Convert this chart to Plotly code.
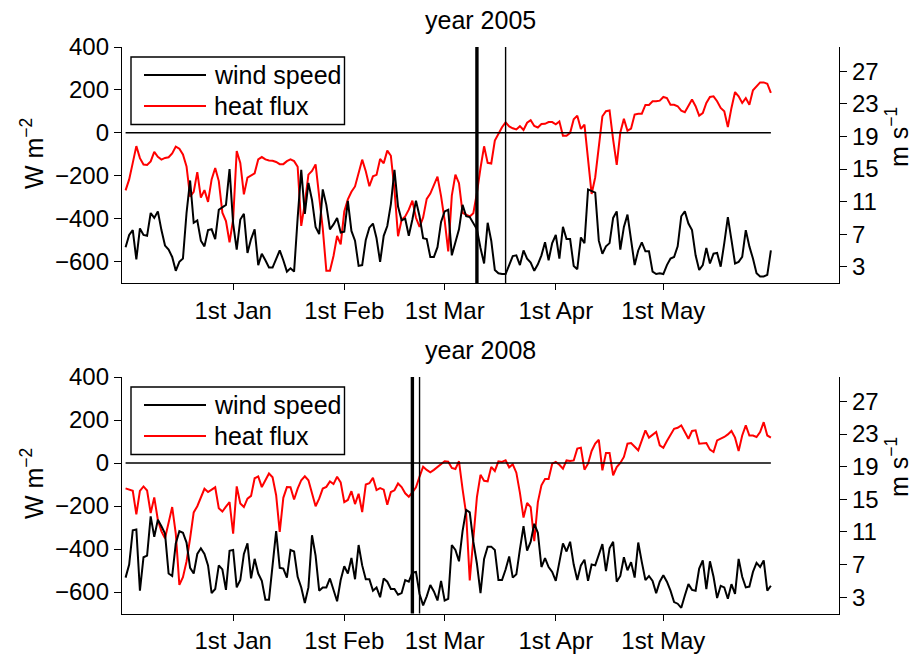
import plotly.graph_objects as go

# Day index counted from 1st December (0 = 1st Dec, 31 = 1st Jan, ...)
DAYS = list(range(1, 182))
MONTH_TICKS = [31, 62, 90, 121, 151]
MONTH_LABELS = ["1st Jan", "1st Feb", "1st Mar", "1st Apr", "1st May"]
HEAT_TICKS = [-600, -400, -200, 0, 200, 400]
WIND_TICKS = [3, 7, 11, 15, 19, 23, 27]

# ---- winter 2004/05 -------------------------------------------------------
heat_2005 = [
    -268, -217, -140, -62, -118, -148, -150, -133, -89, -112,
    -125, -117, -114, -96, -64, -74, -101, -157, -297, -275,
    -183, -302, -267, -322, -217, -164, -225, -372, -411, -510,
    -403, -85, -140, -287, -209, -197, -189, -124, -113, -124,
    -129, -130, -136, -146, -146, -132, -124, -132, -158, -434,
    -329, -195, -178, -147, -302, -446, -643, -643, -574, -481,
    -520, -367, -310, -275, -250, -187, -125, -179, -249, -203,
    -196, -122, -142, -83, -107, -265, -482, -405, -390, -358,
    -316, -396, -438, -394, -308, -283, -243, -204, -295, -408,
    -553, -293, -195, -235, -373, -383, -390, -375, -280, -164,
    -63, -140, -143, -36, -3, 26, 49, 30, 21, 16,
    31, 13, 47, 59, 32, 25, 41, 42, 50, 50,
    40, 53, -14, -14, 0, 63, 80, 18, 38, -110,
    -285, -207, -50, 77, 101, 104, -32, -149, 2, 65,
    10, 20, 85, 89, 89, 130, 130, 147, 147, 150,
    167, 162, 131, 131, 124, 103, 96, 124, 155, 124,
    80, 92, 139, 167, 170, 147, 116, 100, 27, 116,
    190, 170, 139, 162, 131, 198, 217, 235, 235, 229,
    186,
]
wind_2005 = [
    5.4, 6.9, 7.5, 3.9, 7.7, 6.9, 6.8, 9.6, 9.0, 9.8,
    7.5, 5.6, 5.1, 4.2, 2.5, 3.6, 4.0, 9.6, 13.6, 8.4,
    8.7, 6.2, 5.5, 7.5, 7.6, 6.4, 10.0, 10.3, 10.6, 15.0,
    8.3, 5.1, 8.8, 9.5, 4.7, 6.4, 7.6, 3.2, 4.6, 3.8,
    2.9, 2.9, 3.9, 5.0, 3.8, 2.4, 2.8, 2.4, 9.0, 14.9,
    9.5, 13.3, 11.2, 7.9, 7.0, 12.5, 10.6, 7.6, 8.2, 9.0,
    7.2, 7.3, 11.1, 7.4, 6.2, 3.1, 3.2, 6.3, 7.8, 8.3,
    6.5, 3.6, 6.8, 8.0, 10.7, 14.9, 10.4, 8.7, 8.9, 6.8,
    8.8, 11.1, 9.2, 6.5, 6.4, 4.2, 4.2, 5.4, 8.5, 9.8,
    10.0, 4.4, 6.0, 7.6, 10.6, 9.2, 9.1, 8.4, 7.6, 5.3,
    3.4, 8.4, 6.2, 2.6, 2.2, 2.1, 2.1, 3.2, 4.3, 4.4,
    3.2, 5.0, 4.0, 3.5, 2.5, 3.3, 4.4, 6.0, 3.8, 5.9,
    6.9, 4.0, 7.9, 6.4, 6.4, 3.1, 2.7, 6.6, 5.9, 12.5,
    12.3, 12.1, 6.2, 4.6, 5.5, 5.9, 9.0, 9.8, 5.1, 7.9,
    9.4, 6.5, 3.2, 5.0, 6.0, 4.9, 4.9, 2.4, 2.1, 2.2,
    2.1, 3.2, 4.0, 4.2, 5.5, 9.2, 9.8, 8.3, 7.5, 4.4,
    2.6, 3.2, 5.3, 3.4, 4.6, 4.7, 3.0, 5.9, 9.1, 6.3,
    3.4, 3.6, 4.2, 7.5, 5.5, 4.0, 2.2, 1.8, 1.8, 2.0,
    5.0,
]
events_2005 = [99, 107]

# ---- winter 2007/08 -------------------------------------------------------
heat_2008 = [
    -118, -123, -129, -239, -130, -109, -128, -233, -160, -265,
    -318, -350, -269, -205, -328, -567, -531, -458, -350, -230,
    -201, -162, -120, -135, -124, -113, -210, -226, -203, -182,
    -329, -109, -188, -205, -166, -153, -71, -62, -112, -81,
    -49, -66, -150, -321, -162, -112, -113, -170, -119, -80,
    -62, -80, -142, -201, -166, -119, -111, -86, -98, -64,
    -90, -182, -172, -131, -191, -143, -228, -100, -94, -69,
    -126, -117, -124, -194, -135, -127, -95, -112, -141, -157,
    -137, -113, -63, -17, -32, -43, -32, -20, -8, 8,
    6, -23, -28, 8, -121, -237, -546, -360, -159, -55,
    -83, -85, -18, -37, 8, 5, 13, -20, -6, -45,
    -139, -254, -186, -205, -363, -182, -104, -74, -74, -3,
    5, -8, -26, 12, 9, 12, 67, 71, -31, -3,
    56, 90, 108, -34, 46, 46, -57, -19, 0, 28,
    90, 93, 74, 59, 105, 152, 118, 133, 144, 82,
    71, 102, 133, 159, 164, 175, 144, 113, 149, 152,
    90, 90, 93, 62, 51, 105, 113, 121, 133, 149,
    118, 56, 128, 175, 128, 128, 121, 144, 190, 128,
    118,
]
wind_2008 = [
    5.4, 7.0, 11.2, 11.3, 3.8, 7.9, 8.1, 12.9, 10.4, 12.5,
    11.7, 10.8, 5.9, 5.6, 9.6, 11.1, 10.9, 9.7, 6.6, 5.9,
    8.3, 9.0, 8.3, 6.9, 3.5, 4.0, 6.9, 6.4, 3.9, 8.7,
    8.8, 4.2, 5.1, 8.3, 9.6, 5.3, 7.7, 5.9, 5.0, 2.7,
    2.7, 6.9, 11.1, 6.6, 6.5, 5.4, 8.8, 8.6, 5.5, 4.2,
    2.3, 4.2, 10.6, 8.1, 3.8, 4.2, 4.2, 5.3, 3.9, 2.5,
    5.1, 6.8, 5.9, 7.8, 5.2, 9.4, 6.9, 5.2, 5.2, 3.8,
    4.2, 3.0, 5.3, 4.9, 4.0, 4.0, 3.3, 3.5, 5.1, 4.9,
    6.0, 6.1, 3.4, 2.0, 3.1, 4.5, 3.7, 2.6, 5.0, 2.6,
    2.8, 9.4, 8.8, 7.4, 11.1, 13.7, 13.4, 9.8, 7.1, 3.5,
    7.7, 9.2, 9.2, 8.8, 5.1, 5.1, 6.4, 8.0, 5.4, 5.8,
    8.9, 11.7, 8.7, 9.8, 12.0, 10.9, 6.7, 7.8, 6.7, 6.1,
    5.0, 7.3, 9.6, 8.6, 9.8, 7.0, 5.1, 6.9, 7.6, 5.0,
    7.0, 6.9, 8.3, 9.5, 6.2, 9.0, 9.8, 4.9, 5.6, 7.9,
    6.3, 7.3, 5.4, 9.7, 7.3, 5.1, 5.6, 5.0, 3.5, 4.9,
    5.7, 4.9, 3.8, 2.4, 2.2, 1.7, 3.2, 4.6, 3.9, 3.8,
    6.5, 7.5, 4.0, 7.4, 5.5, 2.9, 4.4, 4.2, 2.8, 4.6,
    3.4, 7.7, 5.5, 4.2, 4.3, 6.1, 7.2, 6.7, 7.5, 3.8,
    4.4,
]
events_2008 = [81, 83]

W, H = 917, 657
FONT = "Liberation Sans"
X0, X1 = 122 / W, 839 / W
PANELS = [
    # title, heat, wind, event days, y-domain (paper), axis suffixes
    ("year 2005", heat_2005, wind_2005, events_2005, (1 - 283 / H, 1 - 47 / H), ("", "", "2")),
    ("year 2008", heat_2008, wind_2008, events_2008, (1 - 613.5 / H, 1 - 377 / H), ("2", "3", "4")),
]

fig = go.Figure()
layout = dict(
    width=W, height=H,
    margin=dict(l=0, r=0, t=0, b=0, autoexpand=False),
    paper_bgcolor="white", plot_bgcolor="white",
    showlegend=False,
    font=dict(family=FONT, size=24, color="black"),
)
shapes, annotations = [], []

for title, heat, wind, events, ydom, (xs, yls, yrs) in PANELS:
    xname, ylname, yrname = "x" + xs, "y" + yls, "y" + yrs
    # heat flux on the left axis, wind speed on the right axis
    fig.add_trace(go.Scatter(x=DAYS, y=wind, mode="lines", name="wind speed",
                             line=dict(color="black", width=2),
                             xaxis=xname, yaxis=yrname))
    fig.add_trace(go.Scatter(x=DAYS, y=heat, mode="lines", name="heat flux",
                             line=dict(color="#ff0000", width=2),
                             xaxis=xname, yaxis=ylname))

    layout["xaxis" + xs] = dict(
        domain=[X0, X1], range=[0, 200], anchor=ylname, automargin=False,
        tickmode="array", tickvals=MONTH_TICKS, ticktext=MONTH_LABELS,
        ticks="outside", ticklen=6, tickwidth=1.3, tickcolor="black",
        showline=True, linecolor="black", linewidth=1.3,
        showgrid=False, zeroline=False,
        tickfont=dict(family=FONT, size=24, color="black"),
    )
    layout["yaxis" + yls] = dict(
        domain=list(ydom), range=[-700, 400], anchor=xname, automargin=False,
        tickvals=HEAT_TICKS, ticks="outside", ticklen=7, tickwidth=1.3,
        tickcolor="black", showline=True, linecolor="black", linewidth=1.3,
        showgrid=False, zeroline=False,
        tickfont=dict(family=FONT, size=24, color="black"),
    )
    layout["yaxis" + yrs] = dict(
        overlaying=ylname, side="right", anchor=xname, range=[1, 30],
        automargin=False,
        tickvals=WIND_TICKS, ticks="outside", ticklen=7, tickwidth=1.3,
        tickcolor="black", showline=True, linecolor="black", linewidth=1.3,
        showgrid=False, zeroline=False,
        tickfont=dict(family=FONT, size=24, color="black"),
    )

    # zero reference line over the data period
    shapes.append(dict(type="line", xref=xname, yref=ylname,
                       x0=DAYS[0], x1=DAYS[-1], y0=0, y1=0,
                       line=dict(color="black", width=1.5)))
    # event markers: first thick, second thin
    for day, lw in zip(events, (3.4, 1.4)):
        shapes.append(dict(type="line", xref=xname, yref=ylname + " domain",
                           x0=day, x1=day, y0=0, y1=1,
                           line=dict(color="black", width=lw)))

    top_px = (1 - ydom[1]) * H
    # legend box with line samples
    shapes.append(dict(type="rect", xref="paper", yref="paper",
                       x0=131 / W, x1=344.5 / W,
                       y0=1 - (top_px + 77.5) / H, y1=1 - (top_px + 10) / H,
                       fillcolor="white", line=dict(color="black", width=1.4)))
    for (label, colour), dy in zip((("wind speed", "black"), ("heat flux", "#ff0000")), (28, 59)):
        yy = 1 - (top_px + dy) / H
        shapes.append(dict(type="line", xref="paper", yref="paper",
                           x0=144 / W, x1=206 / W, y0=yy, y1=yy,
                           line=dict(color=colour, width=2)))
        annotations.append(dict(text=label, xref="paper", yref="paper",
                                x=212 / W, y=yy, xanchor="left", yanchor="middle",
                                showarrow=False,
                                font=dict(family=FONT, size=25, color="black")))

    # panel title
    annotations.append(dict(text=title, xref="paper", yref="paper",
                            x=(X0 + X1) / 2, y=1 - (top_px - 27) / H,
                            xanchor="center", yanchor="middle", showarrow=False,
                            font=dict(family=FONT, size=25, color="black")))
    # axis titles
    annotations.append(dict(text="W m<sup>\u22122</sup>", xref="paper", yref="paper",
                            x=32 / W, y=1 - (top_px + 107) / H, textangle=-90,
                            xanchor="center", yanchor="middle", showarrow=False,
                            font=dict(family=FONT, size=25, color="black")))
    annotations.append(dict(text="m s<sup>\u22121</sup>", xref="paper", yref="paper",
                            x=897 / W, y=1 - (top_px + 90) / H, textangle=-90,
                            xanchor="center", yanchor="middle", showarrow=False,
                            font=dict(family=FONT, size=25, color="black")))

layout["shapes"] = shapes
layout["annotations"] = annotations
fig.update_layout(**layout)
fig.write_html("out.html", config={"displayModeBar": False})
